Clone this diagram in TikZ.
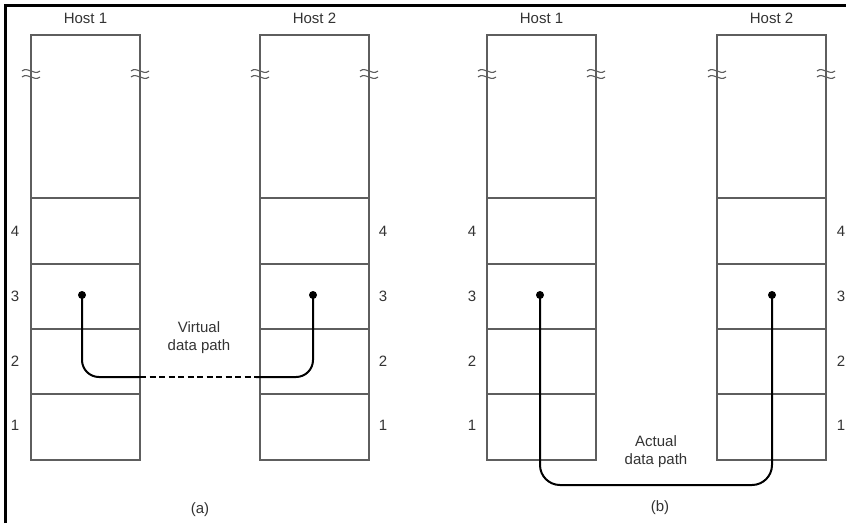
\documentclass[tikz,border=0pt]{standalone}
\usepackage{fontspec}
\setsansfont{Liberation Sans}
\definecolor{box-line-color}{HTML}{5E5E5E}

% one host: open top part, four layers below
\newcommand{\hoststack}[3]{%
\begin{scope}[xshift=#1pt]
\draw[boxline] (0,198) -- (0,35) -- (109,35) -- (109,198);
\draw[boxline] (0,198) rectangle (109,460);
\foreach \ly in {264,329,394}
    \draw[boxline] (0,\ly) -- (109,\ly);
\foreach \bx in {0,109} {
    \draw[breakmark] (\bx-9,71) .. controls (\bx-3,66) and (\bx+3,76) .. (\bx+9,71);
    \draw[breakmark] (\bx-9,77) .. controls (\bx-3,72) and (\bx+3,82) .. (\bx+9,77);
}
\node (#2-host) at (54.5,18) {#3};
\end{scope}}

\begin{document}
\begin{tikzpicture}[x=1pt,y=-1pt,
boxline/.style={draw=box-line-color,line width=1.3pt},
breakmark/.style={draw=box-line-color,line width=1.1pt},
datapath/.style={draw=black,line width=2pt},
datadot/.style={circle,fill=black,inner sep=0pt,minimum size=8pt}]
\tikzstyle{every node}=[font=\sffamily\fontsize{15}{18}\selectfont, text=black!80]
\useasboundingbox (0,0) rectangle (846,523);

% frame
\draw[line width=2.4pt] (5.5,523) -- (5.5,5.5) -- (846,5.5);

% (a)
\hoststack{31}{a}{Host 1}
\hoststack{260}{b}{Host 2}
% (b)
\hoststack{487}{c}{Host 1}
\hoststack{717}{d}{Host 2}

% layer numbers
\foreach \num/\ly in {4/231,3/296,2/361,1/425} {
    \node (a-l\num) at (15,\ly) {\num};
    \node (b-l\num) at (383,\ly) {\num};
    \node (c-l\num) at (472,\ly) {\num};
    \node (d-l\num) at (841,\ly) {\num};
}

% virtual data path
\node (a-dot) [datadot] at (82,295) {};
\node (b-dot) [datadot] at (313,295) {};
\coordinate (a-edge) at (140,377);
\coordinate (b-edge) at (256,377);
\draw[datapath, rounded corners=17pt] (a-dot.center) |- (a-edge);
\draw[datapath, dash pattern=on 6pt off 3.5pt] (a-edge) -- (b-edge);
\draw[datapath, rounded corners=17pt] (b-edge) -| (b-dot.center);
\node (virtual) [align=center] at (199,338) {Virtual\\data path};
\node (cap-a) at (200,510) {(a)};

% actual data path
\node (c-dot) [datadot] at (540,295) {};
\node (d-dot) [datadot] at (772,295) {};
\coordinate (c-low) at (656,485);
\draw[datapath, rounded corners=20pt] (c-dot.center) |- (c-low) -| (d-dot.center);
\node (actual) [align=center] at (656,452) {Actual\\data path};
\node (cap-b) at (660,508) {(b)};

\end{tikzpicture}
\end{document}
